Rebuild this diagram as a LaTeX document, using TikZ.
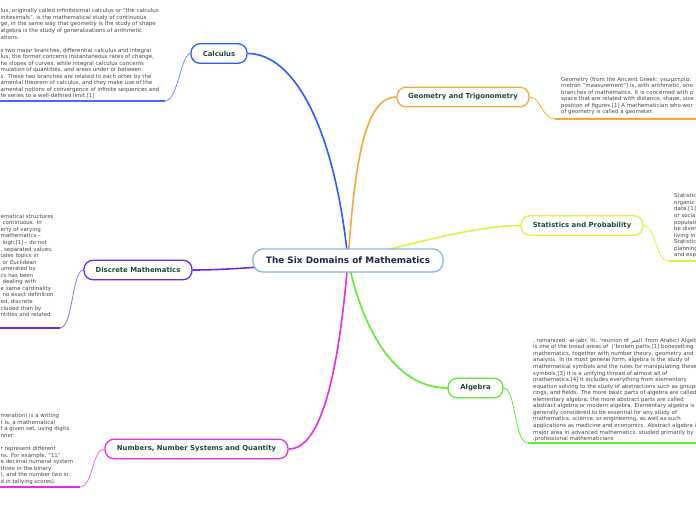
\documentclass[tikz,border=0pt]{standalone}
\usepackage{fontspec}
\setmainfont{DejaVu Sans}
\newfontfamily\arabicfont[Script=Arabic]{DejaVu Sans}
\TeXXeTstate=1
\usetikzlibrary{backgrounds}
\definecolor{rootblue}{HTML}{86B8E0}
\definecolor{navy}{HTML}{1B2A4A}
\definecolor{titlegreen}{HTML}{1D4A3B}
\definecolor{notegray}{HTML}{454545}
\definecolor{calcblue}{HTML}{2B5CFF}
\definecolor{geoorange}{HTML}{F7A83A}
\definecolor{statyellow}{HTML}{DCF23F}
\definecolor{discpurple}{HTML}{6A2DE6}
\definecolor{alggreen}{HTML}{5BEA2F}
\definecolor{nummagenta}{HTML}{E42CE4}
\begin{document}
\begin{tikzpicture}[x=1pt,y=-1pt,
  root/.style={draw=rootblue, rounded corners=10pt, line width=1.3pt, fill=white,
    minimum width=190pt, minimum height=23pt, inner sep=0pt,
    font=\fontsize{8.9}{10}\selectfont\bfseries, text=navy},
  topic/.style={rounded corners=9pt, line width=1.3pt, fill=white,
    minimum height=19.5pt, inner sep=0pt,
    font=\fontsize{6.9}{8}\selectfont\bfseries, text=titlegreen},
  branch/.style={line width=1.6pt},
  twig/.style={line width=0.8pt},
  uline/.style={line width=2.2pt},
  note/.style={anchor=north west, inner sep=0pt, align=left, text=notegray,
    font=\fontsize{5.45}{6.55}\selectfont}
]
\useasboundingbox (0,0) rectangle (696,520);

\node[root] (root) at (348,260.5) {The Six Domains of Mathematics};
\node[topic, draw=calcblue, minimum width=56pt] (calc) at (219,53.5) {Calculus};
\node[topic, draw=geoorange, minimum width=132pt] (geo) at (463,97) {Geometry and Trigonometry};
\node[topic, draw=statyellow, minimum width=122pt] (stat) at (582,225.5) {Statistics and Probability};
\node[topic, draw=discpurple, minimum width=108pt] (disc) at (138,270) {Discrete Mathematics};
\node[topic, draw=alggreen, minimum width=55pt] (alg) at (475.5,388) {Algebra};
\node[topic, draw=nummagenta, minimum width=183pt] (num) at (196.5,449) {Numbers, Number Systems and Quantity};

\begin{scope}[on background layer]
\draw[branch, calcblue] (root.center) .. controls (335,130) and (295,53.5) .. (calc.east);
\draw[branch, geoorange] (root.center) .. controls (355,160) and (365,97) .. (geo.west);
\draw[branch, statyellow] (root.center) .. controls (415,242) and (480,225.5) .. (stat.west);
\draw[branch, discpurple] (root.center) .. controls (250,268) and (220,270) .. (disc.east);
\draw[branch, alggreen] (root.center) .. controls (365,340) and (400,388) .. (alg.west);
\draw[branch, nummagenta] (root.center) .. controls (338,380) and (320,449) .. (num.east);
\end{scope}

% underline end points
\coordinate (cu1) at (165,101); \coordinate (cu0) at (0,101);
\coordinate (gu1) at (555,119); \coordinate (gu0) at (696,119);
\coordinate (su1) at (669,261); \coordinate (su0) at (696,261);
\coordinate (du1) at (60,328);  \coordinate (du0) at (0,328);
\coordinate (au1) at (528,443); \coordinate (au0) at (696,443);
\coordinate (nu1) at (80,487);  \coordinate (nu0) at (0,487);

\draw[twig, calcblue!70] (calc.west) .. controls (181,53.5) and (178,101) .. (cu1);
\draw[uline, calcblue!90] (cu1) -- (cu0);
\draw[twig, geoorange] (geo.east) .. controls (541,97) and (542,119) .. (gu1);
\draw[uline, geoorange] (gu1) -- (gu0);
\draw[twig, statyellow] (stat.east) .. controls (656,225.5) and (655,261) .. (su1);
\draw[uline, statyellow] (su1) -- (su0);
\draw[twig, discpurple!70] (disc.west) .. controls (72,270) and (73,328) .. (du1);
\draw[uline, discpurple] (du1) -- (du0);
\draw[twig, alggreen] (alg.east) .. controls (516,388) and (514,443) .. (au1);
\draw[uline, alggreen] (au1) -- (au0);
\draw[twig, nummagenta!70] (num.west) .. controls (92,449) and (93,487) .. (nu1);
\draw[uline, nummagenta] (nu1) -- (nu0);

% notes
\node[note] (calcnote) at (0.5,8.5) {%
lus, originally called infinitesimal calculus or "the calculus\\
initesimals", is the mathematical study of continuous\\
ge, in the same way that geometry is the study of shape\\
algebra is the study of generalizations of arithmetic\\
ations.\\[6.55pt]
s two major branches, differential calculus and integral\\
lus; the former concerns instantaneous rates of change,\\
he slopes of curves, while integral calculus concerns\\
mulation of quantities, and areas under or between\\
s. These two branches are related to each other by the\\
amental theorem of calculus, and they make use of the\\
amental notions of convergence of infinite sequences and\\
te series to a well-defined limit.[1]};

\node[note] (geonote) at (561,76.5) {%
Geometry (from the Ancient Greek: γεωμετρία;\\
metron "measurement") is, with arithmetic, one\\
branches of mathematics. It is concerned with p\\
space that are related with distance, shape, size\\
position of figures.[1] A mathematician who wor\\
of geometry is called a geometer.};

\node[note] (statnote) at (674,193.5) {%
Statistic\\
organiz\\
data.[1]\\
or social\\
populati\\
be diver\\
living in\\
Statistic\\
planning\\
and exp};

\node[note] (discnote) at (0.5,214) {%
ematical structures\\
\hspace*{2pt}continuous. In\\
erty of varying\\
mathematics –\\
\hspace*{2pt}logic[1] – do not\\
, separated values.\\
udes topics in\\
\hspace*{2pt}or Euclidean\\
umerated by\\
cs has been\\
\hspace*{2pt}dealing with\\
e same cardinality\\
\hspace*{2pt}no exact definition\\
ed, discrete\\
cluded than by\\
ntities and related};

\node[note] (algnote) at (533,338) {%
, romanized: al-jabr, lit. 'reunion of {\arabicfont\beginR الجبر\endR} :from Arabic) Algeb\\
is one of the broad areas of \ ('broken parts,[1] bonesetting\\
mathematics, together with number theory, geometry and\\
analysis. In its most general form, algebra is the study of\\
mathematical symbols and the rules for manipulating these\\
symbols;[3] it is a unifying thread of almost all of\\
mathematics.[4] It includes everything from elementary\\
equation solving to the study of abstractions such as groups\\
rings, and fields. The more basic parts of algebra are called\\
elementary algebra; the more abstract parts are called\\
abstract algebra or modern algebra. Elementary algebra is\\
generally considered to be essential for any study of\\
mathematics, science, or engineering, as well as such\\
applications as medicine and economics. Abstract algebra is\\
major area in advanced mathematics, studied primarily by\\
.professional mathematicians};

\node[note] (numnote) at (0.5,413.5) {%
meration) is a writing\\
t is, a mathematical\\
f a given set, using digits\\
nner:\\[6.55pt]
r represent different\\
ns. For example, "11"\\
e decimal numeral system\\
three in the binary\\
), and the number two in\\
d in tallying scores).};
\end{tikzpicture}
\end{document}
